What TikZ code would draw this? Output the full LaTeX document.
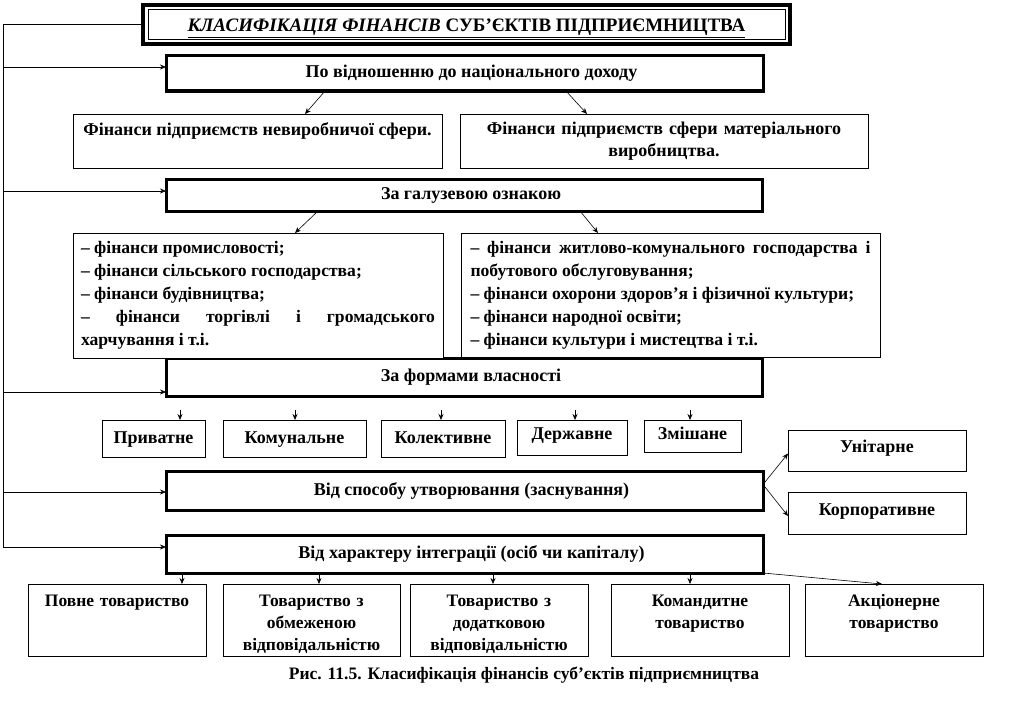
\documentclass[tikz,border=0pt]{standalone}
\usepackage{fontspec}
\setmainfont{Liberation Serif}
\usetikzlibrary{arrows.meta}
\begin{document}
\begin{tikzpicture}[x=1pt, y=-1pt,
  font=\fontsize{18}{22}\selectfont\bfseries,
  every node/.style={inner sep=0pt, outer sep=0pt},
  ttlbox/.style={draw, line width=4pt, anchor=north west},
  catbox/.style={draw, line width=3pt, anchor=north west, fill=white},
  box/.style={draw, line width=0.8pt, anchor=north west, fill=white},
  lstbox/.style={box, align=justify, font=\fontsize{17.6}{23}\selectfont\bfseries},
  botbox/.style={box, minimum width=178pt, text width=172pt, align=center,
    font=\fontsize{17.5}{22}\selectfont\bfseries, text height=22.5pt, text depth=49.5pt},
  arr/.style={-{Stealth[length=6pt, width=5pt]}, line width=0.6pt}]
\useasboundingbox (0,0) rectangle (1023,717);
% title with double frame
\node[ttlbox, minimum width=647pt, text height=27pt, text depth=12pt,
  font=\fontsize{19}{22}\selectfont\bfseries] (ttl) at (143,5)
  {\underline{\textit{КЛАСИФІКАЦІЯ ФІНАНСІВ} СУБ’ЄКТІВ ПІДПРИЄМНИЦТВА}};
\draw[line width=0.8pt] ([xshift=5pt, yshift=-4pt]ttl.north west)
  rectangle ([xshift=-5pt, yshift=4.5pt]ttl.south east);
% classification criteria
\node[catbox, minimum width=597pt, minimum height=35pt] (cat1) at (166,56)
  {\hspace*{14pt}По відношенню до національного доходу};
\node[catbox, minimum width=596pt, minimum height=32pt] (cat2) at (166,179)
  {\hspace*{14pt}За галузевою ознакою};
\node[catbox, minimum width=596pt, minimum height=38pt] (cat3) at (166,358)
  {\hspace*{14pt}За формами власності};
\node[catbox, minimum width=597pt, minimum height=39pt] (cat4) at (166,471)
  {\hspace*{14pt}Від способу утворювання (заснування)};
\node[catbox, minimum width=597pt, minimum height=38pt] (cat5) at (166,535)
  {\hspace*{14pt}Від характеру інтеграції (осіб чи капіталу)};
% bus on the left
\foreach \n/\yy in {1/67,2/191,3/392,4/492,5/547}
  \coordinate (bus\n) at (3,\yy);
\draw[line width=0.6pt] (ttl.west) -| (bus5);
\foreach \n in {1,...,5}
  \draw[arr] (bus\n) -- (bus\n -| cat\n.west);
% national income
\node[box, minimum width=369pt, text height=21pt, text depth=33pt] (fa) at (73,114)
  {Фінанси підприємств невиробничої сфери.};
\node[box, minimum width=408pt, minimum height=54pt, text width=400pt, align=center]
  (fb) at (460,114)
  {Фінанси підприємств сфери матеріального\\виробництва.};
\draw[arr] ([xshift=159pt]cat1.south west) -- ([xshift=232pt]fa.north west);
\draw[arr] ([xshift=400pt]cat1.south west) -- ([xshift=127pt]fb.north west);
% branches
\node[lstbox, minimum width=370pt, minimum height=125pt, text width=354pt] (ga) at (73,233)
  {– фінанси промисловості;\\
   – фінанси сільського господарства;\\
   – фінанси будівництва;\\
   – фінанси торгівлі і громадського\linebreak харчування і т.і.};
\node[lstbox, minimum width=419pt, minimum height=124pt, text width=400pt] (gb) at (461,233)
  {– фінанси житлово-комунального господарства і\linebreak
   побутового обслуговування;\\
   – фінанси охорони здоров'я і фізичної культури;\\
   – фінанси народної освіти;\\
   – фінанси культури і мистецтва і т.і.};
\draw[arr] ([xshift=152pt]cat2.south west) -- ([xshift=222pt]ga.north west);
\draw[arr] ([xshift=414pt]cat2.south west) -- ([xshift=137pt]gb.north west);
% forms of ownership
\node[box, minimum width=103pt, text height=23pt, text depth=14pt] (priv) at (102,420) {Приватне};
\node[box, minimum width=143pt, text height=23pt, text depth=14pt] (komun) at (223,420) {Комунальне};
\node[box, minimum width=124pt, text height=23pt, text depth=14pt] (kolekt) at (381,420) {Колективне};
\node[box, minimum width=110pt, text height=19pt, text depth=16pt] (derzh) at (517,420) {Державне};
\node[box, minimum width=97pt, text height=19pt, text depth=13pt] (zmish) at (644,420) {Змішане};
\foreach \nm/\dx in {priv/26.5, komun/0.5, kolekt/-2, derzh/3, zmish/-2.5}
  \draw[arr] ([xshift=\dx pt, yshift=10pt]\nm.north) -- ([xshift=\dx pt]\nm.north);
% founding
\node[box, minimum width=178pt, text height=22pt, text depth=19pt] (unit) at (788,430) {Унітарне};
\node[box, minimum width=178pt, text height=23pt, text depth=19pt] (korp) at (788,492) {Корпоративне};
\draw[arr] ([yshift=6pt]cat4.east) -- ([yshift=-3pt]unit.west);
\draw[arr] ([yshift=6pt]cat4.east) -- ([yshift=-3pt]korp.west);
% integration
\node[botbox] (pov) at (28,584) {Повне товариство};
\node[botbox, minimum width=177pt] (obm) at (223,584)
  {Товариство з\\обмеженою\\відповідальністю};
\node[botbox] (dod) at (410,584) {Товариство з\\додатковою\\відповідальністю};
\node[botbox] (kom) at (611,584) {Командитне\\товариство};
\node[botbox] (akc) at (805,584) {Акціонерне\\товариство};
\foreach \nm/\a/\b in {pov/16/154, obm/153/96, dod/327/83, kom/524/79}
  \draw[arr] ([xshift=\a pt]cat5.south west) -- ([xshift=\b pt]\nm.north west);
\draw[arr] (cat5.south east) -- ([xshift=77pt]akc.north west);
% caption
\node[font=\fontsize{17.5}{22}\selectfont\bfseries] (cap) at (524,675)
  {Рис. 11.5. Класифікація фінансів суб’єктів підприємництва};
\end{tikzpicture}
\end{document}
